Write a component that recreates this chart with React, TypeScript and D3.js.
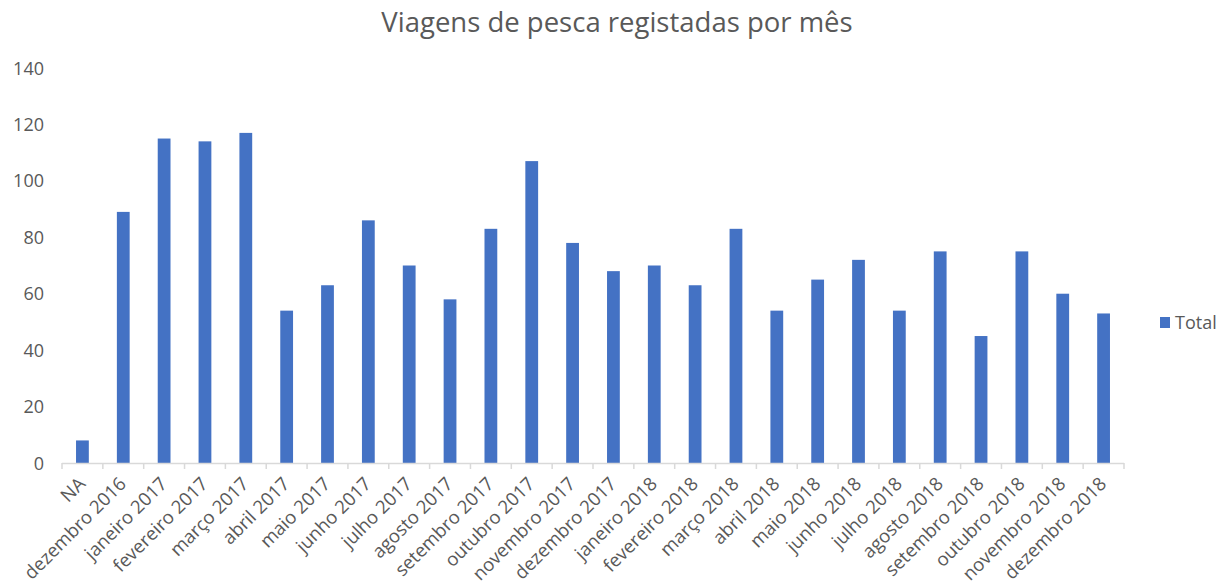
import React from "react";
import * as d3 from "d3";

const categories: string[] = [
  "NA", "dezembro 2016", "janeiro 2017", "fevereiro 2017", "março 2017", "abril 2017",
  "maio 2017", "junho 2017", "julho 2017", "agosto 2017", "setembro 2017", "outubro 2017",
  "novembro 2017", "dezembro 2017", "janeiro 2018", "fevereiro 2018", "março 2018",
  "abril 2018", "maio 2018", "junho 2018", "julho 2018", "agosto 2018", "setembro 2018",
  "outubro 2018", "novembro 2018", "dezembro 2018",
];
const totals: number[] = [
  8, 89, 115, 114, 117, 54, 63, 86, 70, 58, 83, 107, 78, 68, 70, 63, 83, 54, 65, 72, 54, 75, 45, 75, 60, 53,
];
const yTicks: number[] = [0, 20, 40, 60, 80, 100, 120, 140];
const title = "Viagens de pesca registadas por mês";
const seriesName = "Total";

const W = 1227;
const H = 584;
const left = 62;
const right = 1124;
const top = 68;
const bottom = 463;
const font = "'Open Sans', sans-serif";
const textColor = "#595959";
const barColor = "#4472C4";
const axisColor = "#D9D9D9";

export default function App() {
  const gap = 0.687;
  const x = d3.scaleBand<string>().domain(categories).range([left, right]).paddingInner(gap).paddingOuter(gap / 2);
  const y = d3.scaleLinear().domain([0, 140]).range([bottom, top]);
  const step = x.step();
  const edges = d3.range(categories.length + 1).map((i) => left + i * step);

  return (
    <svg width={W} height={H} style={{ position: "fixed", left: 0, top: 0, background: "#fff" }} fontFamily={font}>
      <rect x={0} y={0} width={W} height={H} fill="#fff" />
      <text x={617} y={32} textAnchor="middle" fontSize={27.5} fill={textColor}>{title}</text>
      {yTicks.map((t) => (
        <text key={t} x={44} y={y(t) + 6.5} textAnchor="end" fontSize={18} fill={textColor}>{t}</text>
      ))}
      {categories.map((c, i) => (
        <rect key={c} x={x(c)!} y={y(totals[i])} width={x.bandwidth()} height={bottom - y(totals[i])} fill={barColor} />
      ))}
      <line x1={left} x2={right} y1={bottom + 0.5} y2={bottom + 0.5} stroke={axisColor} strokeWidth={1.5} />
      {edges.map((e, i) => (
        <line key={i} x1={e} x2={e} y1={bottom} y2={bottom + 6} stroke={axisColor} strokeWidth={1.5} />
      ))}
      {categories.map((c) => {
        const cx = x(c)! + x.bandwidth() / 2;
        return (
          <text key={c} transform={`translate(${cx + 4},${485}) rotate(-45)`} textAnchor="end" fontSize={18.5} fill={textColor}>{c}</text>
        );
      })}
      <rect x={1160} y={317} width={10} height={11} fill={barColor} />
      <text x={1175} y={329} fontSize={18} fill={textColor}>{seriesName}</text>
    </svg>
  );
}
